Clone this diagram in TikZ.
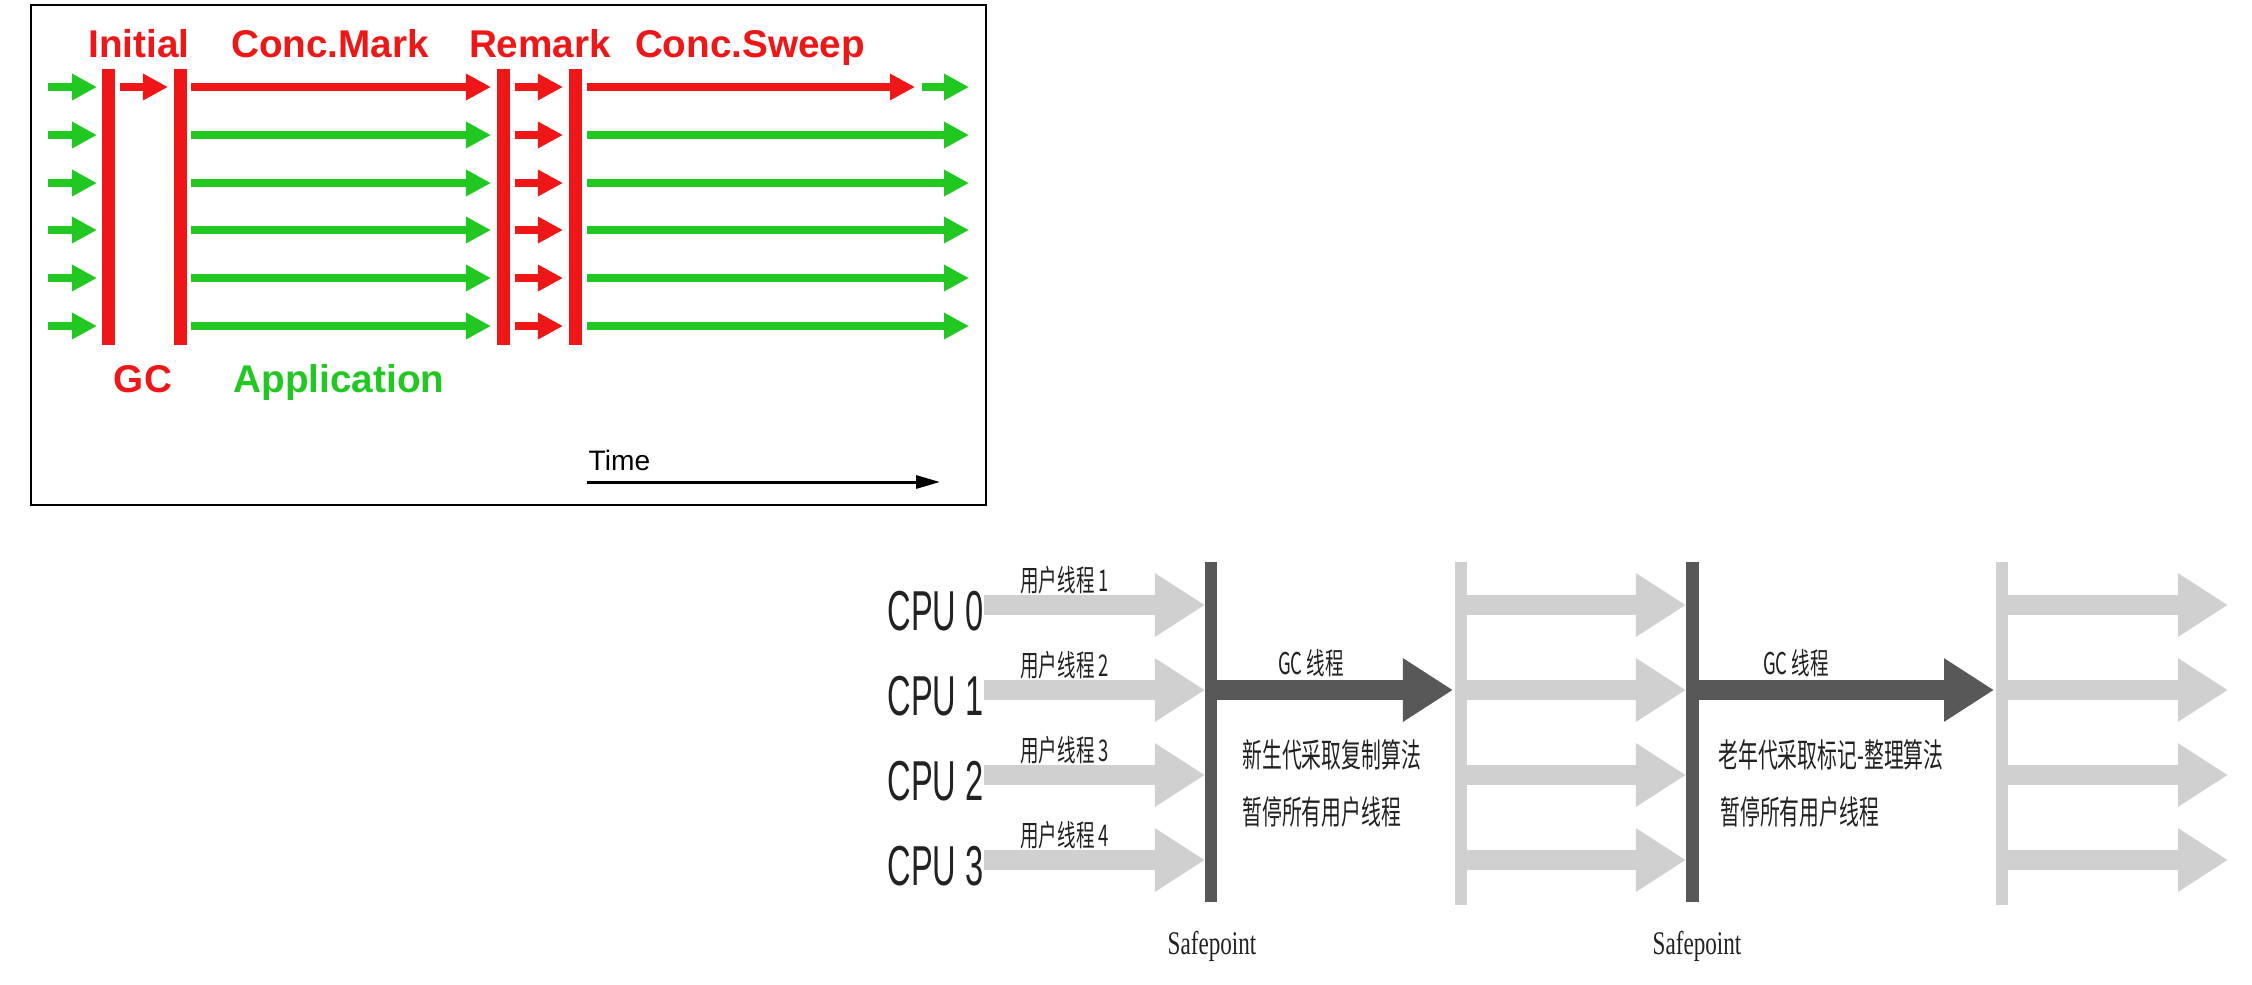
\documentclass[tikz,border=0pt]{standalone}
\usepackage{fontspec}
\setmainfont{Liberation Serif}
\setsansfont{Liberation Sans}
\newfontfamily\cjk{Noto Sans CJK SC}
\usepackage{tikz}
\usetikzlibrary{arrows.meta}

\definecolor{gcred}{RGB}{238,22,22}
\definecolor{appgreen}{RGB}{34,200,34}
\definecolor{lightbar}{RGB}{208,208,208}
\definecolor{darkbar}{RGB}{88,88,88}
\definecolor{ink}{RGB}{34,34,34}

\tikzset{
  thin arrow/.style={line width=0.08cm, -{Triangle[length=0.25cm,width=0.25cm]}},
  fat arrow/.style={line width=0.2cm, -{Triangle[length=0.5cm,width=0.6cm]}},
  phase/.style={font=\sffamily\bfseries\fontsize{11}{13}\selectfont, anchor=base, inner sep=0},
  cpu/.style={font=\sffamily\fontsize{16}{18}\selectfont, text=ink, anchor=east, inner sep=0, xscale=0.58},
  thread/.style={font=\cjk\fontsize{8.5}{10}\selectfont, text=ink, inner sep=0, xscale=0.62},
  note/.style={font=\cjk\fontsize{9.4}{11}\selectfont, text=ink, anchor=west, inner sep=0, xscale=0.6},
  safe/.style={font=\rmfamily\fontsize{9.4}{11}\selectfont, text=ink, inner sep=0, xscale=0.7}
}

\begin{document}
\begin{tikzpicture}[x=0.01cm, y=-0.01cm]
    \useasboundingbox (0,0) rectangle (2252,984);

    % Frame of the CMS picture
    \draw[line width=0.02cm] (31,5) rectangle (986,505);
    % Phase labels
    \node[phase, gcred] (initial) at (139,57) {Initial};
    \node[phase, gcred] (concmark) at (330,57) {Conc.Mark};
    \node[phase, gcred] (remark) at (540,57) {Remark};
    \node[phase, gcred] (concsweep) at (750,57) {Conc.Sweep};
    % GC pauses
    \foreach \x in {102,174,497,569}
        \fill[gcred] (\x,69) rectangle ++(13,276);
    % Threads
    \foreach \y [count=\i] in {87,135,183,230,278,326} {
        \draw[thin arrow, appgreen] (48,\y) -- (97,\y);
        \draw[thin arrow, gcred] (515,\y) -- (563,\y);
    }
    \draw[thin arrow, gcred] (120,87) -- (168,87);
    \draw[thin arrow, gcred] (191,87) -- (491,87);
    \draw[thin arrow, gcred] (587,87) -- (915,87);
    \draw[thin arrow, appgreen] (922,87) -- (969,87);
    \foreach \y in {135,183,230,278,326} {
        \draw[thin arrow, appgreen] (191,\y) -- (491,\y);
        \draw[thin arrow, appgreen] (587,\y) -- (969,\y);
    }
    % Legend
    \node[phase, gcred] (gc) at (143,392) {GC};
    \node[phase, appgreen, anchor=base west] (app) at (233,392) {Application};
    \node[font=\sffamily\fontsize{8}{10}\selectfont, anchor=base west, inner sep=0] (time) at (588,470) {Time};
    \draw[line width=0.03cm, -{Triangle[length=0.24cm,width=0.13cm]}] (587,482) -- (940,482);

    % Safepoints
    \fill[darkbar] (1205,562) rectangle (1217,902);
    \fill[lightbar] (1455,562) rectangle (1467,905);
    \fill[darkbar] (1686,562) rectangle (1699,902);
    \fill[lightbar] (1996,562) rectangle (2008,905);
    % User threads
    \foreach \y/\n [count=\i from 0] in {605/1,690/2,775/3,860/4} {
        \node[cpu] (cpu\i) at (984,\y+6) {CPU \i};
        \node[thread, anchor=west] (user\n) at (1020,\y-25) {用户线程 \n};
        \draw[fat arrow, lightbar] (984,\y) -- (1205,\y);
        \draw[fat arrow, lightbar] (1467,\y) -- (1686,\y);
        \draw[fat arrow, lightbar] (2008,\y) -- (2228,\y);
    }
    % GC threads
    \draw[fat arrow, darkbar] (1217,690) -- (1453,690);
    \draw[fat arrow, darkbar] (1699,690) -- (1994,690);
    \node[thread] (gcthread1) at (1311,663) {GC 线程};
    \node[thread] (gcthread2) at (1796,663) {GC 线程};
    \node[note] (young) at (1242,755) {新生代采取复制算法};
    \node[note] (pause1) at (1242,812) {暂停所有用户线程};
    \node[note] (old) at (1718,755) {老年代采取标记-整理算法};
    \node[note] (pause2) at (1720,812) {暂停所有用户线程};
    \node[safe] (safe1) at (1212,946) {Safepoint};
    \node[safe] (safe2) at (1697,946) {Safepoint};
\end{tikzpicture}
\end{document}
